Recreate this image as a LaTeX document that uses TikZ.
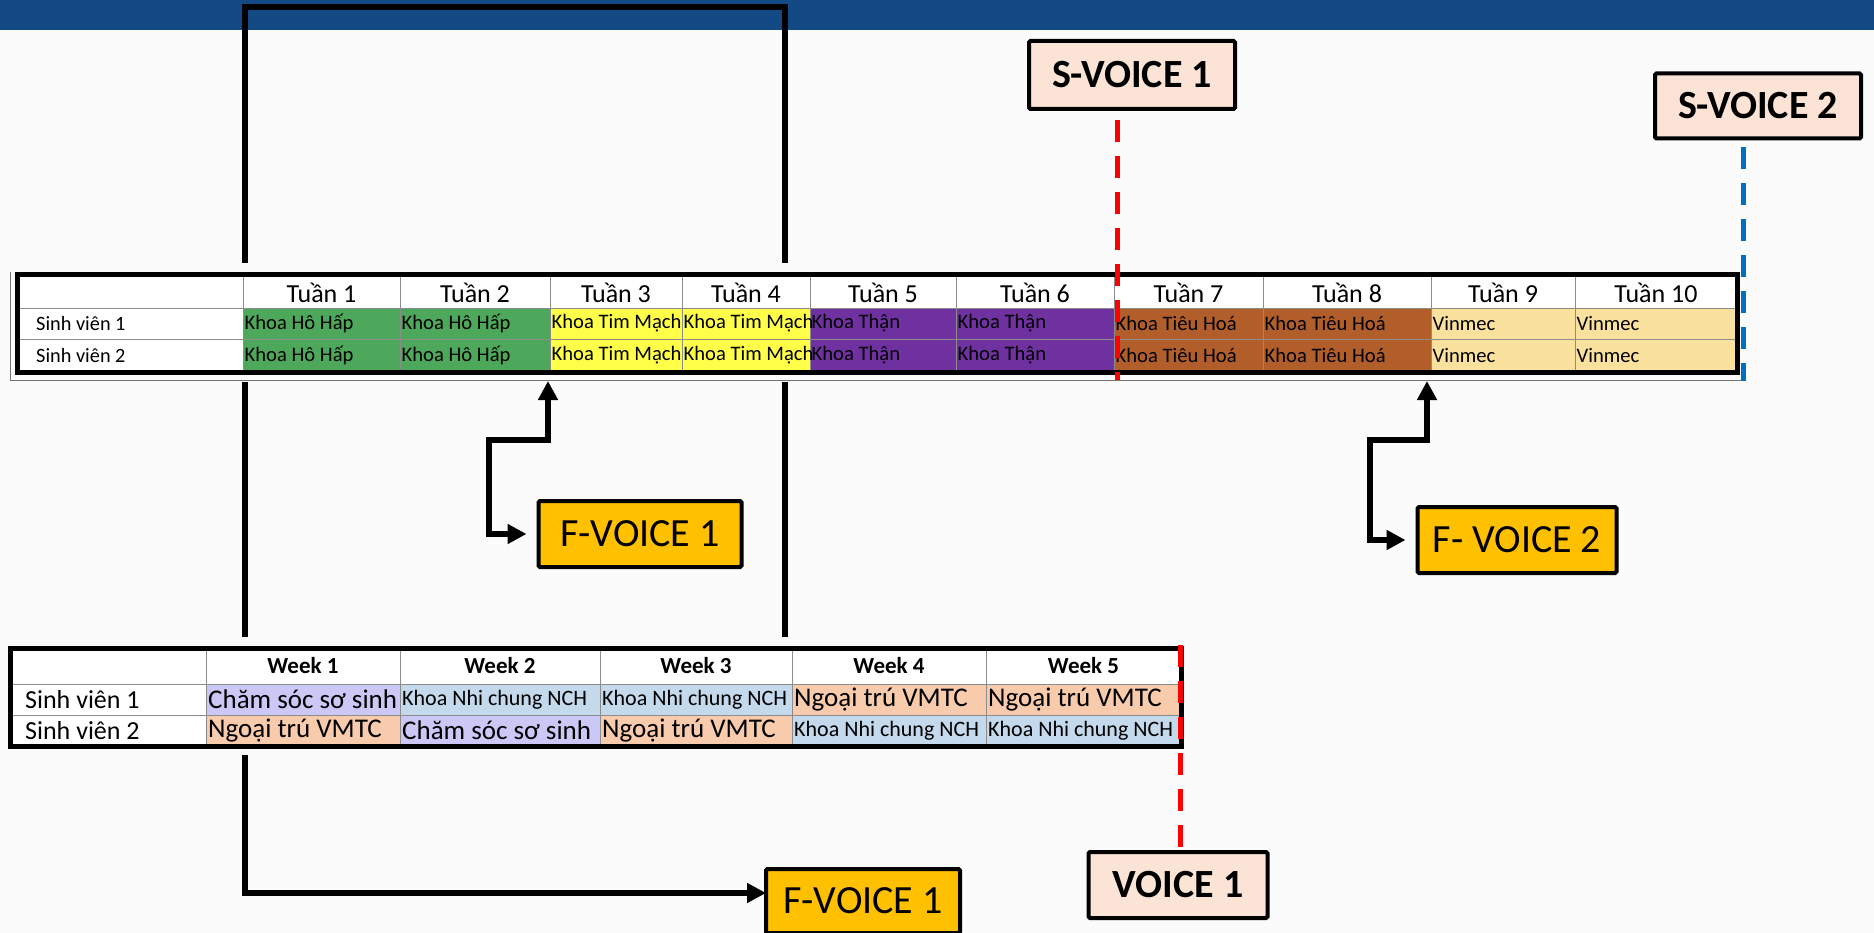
\documentclass[tikz,border=0pt]{standalone}
\usepackage{fontspec}
\setmainfont{Carlito}
\usetikzlibrary{arrows.meta}
\definecolor{barblue}{HTML}{134A85}
\definecolor{bgc}{HTML}{FBFBFB}
\definecolor{gr}{HTML}{4EA85B}
\definecolor{ye}{HTML}{FFFF4A}
\definecolor{pu}{HTML}{7031A0}
\definecolor{br}{HTML}{B25E2A}
\definecolor{ly}{HTML}{FAE19E}
\definecolor{lav}{HTML}{CCC8F6}
\definecolor{lb}{HTML}{C4D9EC}
\definecolor{pe}{HTML}{F7CBAC}
\definecolor{sfill}{HTML}{FBE4D5}
\definecolor{ffill}{HTML}{FFC000}
\definecolor{dred}{HTML}{FF0000}
\definecolor{dblue}{HTML}{0070C0}
\tikzset{
  cellbox/.style={draw=black!45, line width=0.8pt, anchor=north west, inner sep=0pt, outer sep=0pt},
  hdrtext/.style={font=\fontsize{26}{28}\selectfont, inner sep=0pt},
  bodytext/.style={font=\fontsize{20.6}{23}\selectfont, anchor=west, inner sep=1pt},
  rowtext/.style={font=\fontsize{20.3}{22}\selectfont, anchor=west, inner sep=0pt},
  whdr/.style={font=\bfseries\fontsize{23}{25}\selectfont, inner sep=0pt},
  labtext/.style={font=\fontsize{26}{28}\selectfont, anchor=west, inner sep=1pt},
  bigtext/.style={font=\fontsize{27}{29}\selectfont, anchor=west, inner sep=1pt},
  smalltext/.style={font=\fontsize{22}{24}\selectfont, anchor=west, inner sep=1pt},
  frame/.style={line width=5pt, line join=miter},
  conn/.style={line width=6pt, line join=miter, black},
  tip/.style={-{Triangle[length=19pt,width=19pt]}},
  dtip/.style={{Triangle[length=19pt,width=19pt]}-{Triangle[length=19pt,width=19pt]}},
  sbox/.style={draw=black, line width=4pt, fill=sfill, rounded corners=1.5pt, font=\bfseries\fontsize{40}{44}\selectfont, inner sep=0pt},
  fbox/.style={draw=black, line width=4pt, fill=ffill, rounded corners=1.5pt, font=\fontsize{40}{44}\selectfont, inner sep=0pt},
  reddash/.style={dred, line width=5pt, dash pattern=on 22pt off 14pt},
  bluedash/.style={dblue, line width=5pt, dash pattern=on 22pt off 14pt},
}
\begin{document}
\begin{tikzpicture}[x=1pt,y=-1pt]
\fill[bgc] (0,0) rectangle (1874,933);
\useasboundingbox (0,0) rectangle (1874,933);
\fill[barblue] (0,0) rectangle (1874,30);

% ---------- top table ----------
\draw[black!55, line width=1pt] (10,272) -- (10,380) -- (1741,380);
\node[cellbox, fill=white, minimum width=226pt, minimum height=33pt] (th0) at (17,275) {};
\node[cellbox, fill=white, minimum width=226pt, minimum height=31pt] (ta0) at (17,308) {};
\node[cellbox, fill=white, minimum width=226pt, minimum height=33pt] (tb0) at (17,339) {};
\node[rowtext] (tat0) at ([xshift=19pt]ta0.west) {Sinh viên 1};
\node[rowtext] (tbt0) at ([xshift=19pt]tb0.west) {Sinh viên 2};
\foreach \i/\a/\b/\col in {
  1/243/400/gr, 2/400/550/gr, 3/550/682/ye, 4/682/810/ye, 5/810/956/pu,
  6/956/1114/pu, 7/1114/1263/br, 8/1263/1431/br, 9/1431/1575/ly, 10/1575/1737/ly}
{
  \node[cellbox, fill=white, minimum width={(\b-\a)*1pt}, minimum height=33pt] (th\i) at (\a,275) {};
  \node[cellbox, fill=\col, minimum width={(\b-\a)*1pt}, minimum height=31pt] (ta\i) at (\a,308) {};
  \node[cellbox, fill=\col, minimum width={(\b-\a)*1pt}, minimum height=33pt] (tb\i) at (\a,339) {};
}
\foreach \i/\txt in {
  1/{Khoa Hô Hấp}, 2/{Khoa Hô Hấp}, 3/{Khoa Tim Mạch}, 4/{Khoa Tim Mạch},
  5/{Khoa Thận}, 6/{Khoa Thận}, 7/{Khoa Tiêu Hoá}, 8/{Khoa Tiêu Hoá},
  9/{Vinmec}, 10/{Vinmec}}
{
  \node[hdrtext] (tht\i) at ([yshift=-1pt]th\i.center) {Tuần \i};
  \node[bodytext] (tat\i) at ([xshift=0.5pt]ta\i.west) {\txt};
  \node[bodytext] (tbt\i) at ([xshift=0.5pt]tb\i.west) {\txt};
}
\draw[frame] (th0.north west) rectangle (tb10.south east);

% ---------- bottom table ----------
\node[cellbox, fill=white, minimum width=196pt, minimum height=36pt] (bh0) at (10,648) {};
\node[cellbox, fill=white, minimum width=196pt, minimum height=31pt] (ba0) at (10,684) {};
\node[cellbox, fill=white, minimum width=196pt, minimum height=31pt] (bb0) at (10,715) {};
\node[labtext] (bat0) at ([xshift=14pt]ba0.west) {Sinh viên 1};
\node[labtext] (bbt0) at ([xshift=14pt]bb0.west) {Sinh viên 2};
\foreach \i/\a/\b/\ca/\cb in {
  1/206/400/lav/pe, 2/400/600/lb/lav, 3/600/792/lb/pe, 4/792/986/pe/lb, 5/986/1181/pe/lb}
{
  \node[cellbox, fill=white, minimum width={(\b-\a)*1pt}, minimum height=36pt] (bh\i) at (\a,648) {};
  \node[cellbox, fill=\ca, minimum width={(\b-\a)*1pt}, minimum height=31pt] (ba\i) at (\a,684) {};
  \node[cellbox, fill=\cb, minimum width={(\b-\a)*1pt}, minimum height=31pt] (bb\i) at (\a,715) {};
}
\foreach \i/\sa/\ta/\sb/\tb in {
  1/bigtext/{Chăm sóc sơ sinh}/bigtext/{Ngoại trú VMTC},
  2/smalltext/{Khoa Nhi chung NCH}/bigtext/{Chăm sóc sơ sinh},
  3/smalltext/{Khoa Nhi chung NCH}/bigtext/{Ngoại trú VMTC},
  4/bigtext/{Ngoại trú VMTC}/smalltext/{Khoa Nhi chung NCH},
  5/bigtext/{Ngoại trú VMTC}/smalltext/{Khoa Nhi chung NCH}}
{
  \node[whdr] (bht\i) at (bh\i.center) {Week \i};
  \node[\sa] (bat\i) at ([xshift=1pt]ba\i.west) {\ta};
  \node[\sb] (bbt\i) at ([xshift=1pt]bb\i.west) {\tb};
}
\draw[frame] (bh0.north west) rectangle (bb5.south east);

% ---------- label boxes ----------
\node[sbox, minimum width=206pt, minimum height=68pt] (sv1) at (1132,75) {S-VOICE 1\hspace{12pt}};
\node[sbox, minimum width=206pt, minimum height=65pt] (sv2) at (1758,106) {S-VOICE 2\hspace{10pt}};
\node[fbox, minimum width=203pt, minimum height=66pt] (fv1) at (640,534) {F-VOICE 1\hspace{12pt}};
\node[fbox, minimum width=199pt, minimum height=66pt] (fv2) at (1517,540) {F- VOICE 2\hspace{6pt}};
\node[fbox, minimum width=194pt, minimum height=64pt] (fvb) at (863,901) {F-VOICE 1\hspace{8pt}};
\node[sbox, minimum width=179pt, minimum height=66pt] (v1) at (1178,885) {VOICE 1\hspace{10pt}};

% ---------- black connectors ----------
\coordinate (L0) at (245,7);
\coordinate (R0) at (785,7);
\coordinate (L1) at (245,263);
\coordinate (R1) at (785,263);
\coordinate (L2) at (245,382);
\coordinate (R2) at (785,382);
\coordinate (L3) at (245,637);
\coordinate (R3) at (785,637);
\coordinate (L4) at (245,755);
\coordinate (LB) at (766,893);
\draw[conn] (L1) -- (L0) -- (R0) -- (R1);
\draw[conn] (L2) -- (L3);
\draw[conn] (R2) -- (R3);
\draw[conn, tip] (L4) |- (LB);

\coordinate (A1) at (548,381);
\coordinate (B1) at (489,440);
\draw[conn, dtip, shorten <=10pt] (fv1.west) -| (B1) -| (A1);
\coordinate (A2) at (1427,381);
\coordinate (B2) at (1370,440);
\draw[conn, dtip, shorten <=10pt] (fv2.west) -| (B2) -| (A2);

% ---------- dashed markers ----------
\coordinate (S1a) at (1117,120);
\coordinate (S1b) at (1117,380);
\draw[reddash] (S1a) -- (S1b);
\coordinate (S2a) at (1743,147);
\coordinate (S2b) at (1743,381);
\draw[bluedash] (S2a) -- (S2b);
\coordinate (V1a) at (1180,645);
\draw[reddash] (V1a) -- (v1.north -| V1a);
\end{tikzpicture}
\end{document}
